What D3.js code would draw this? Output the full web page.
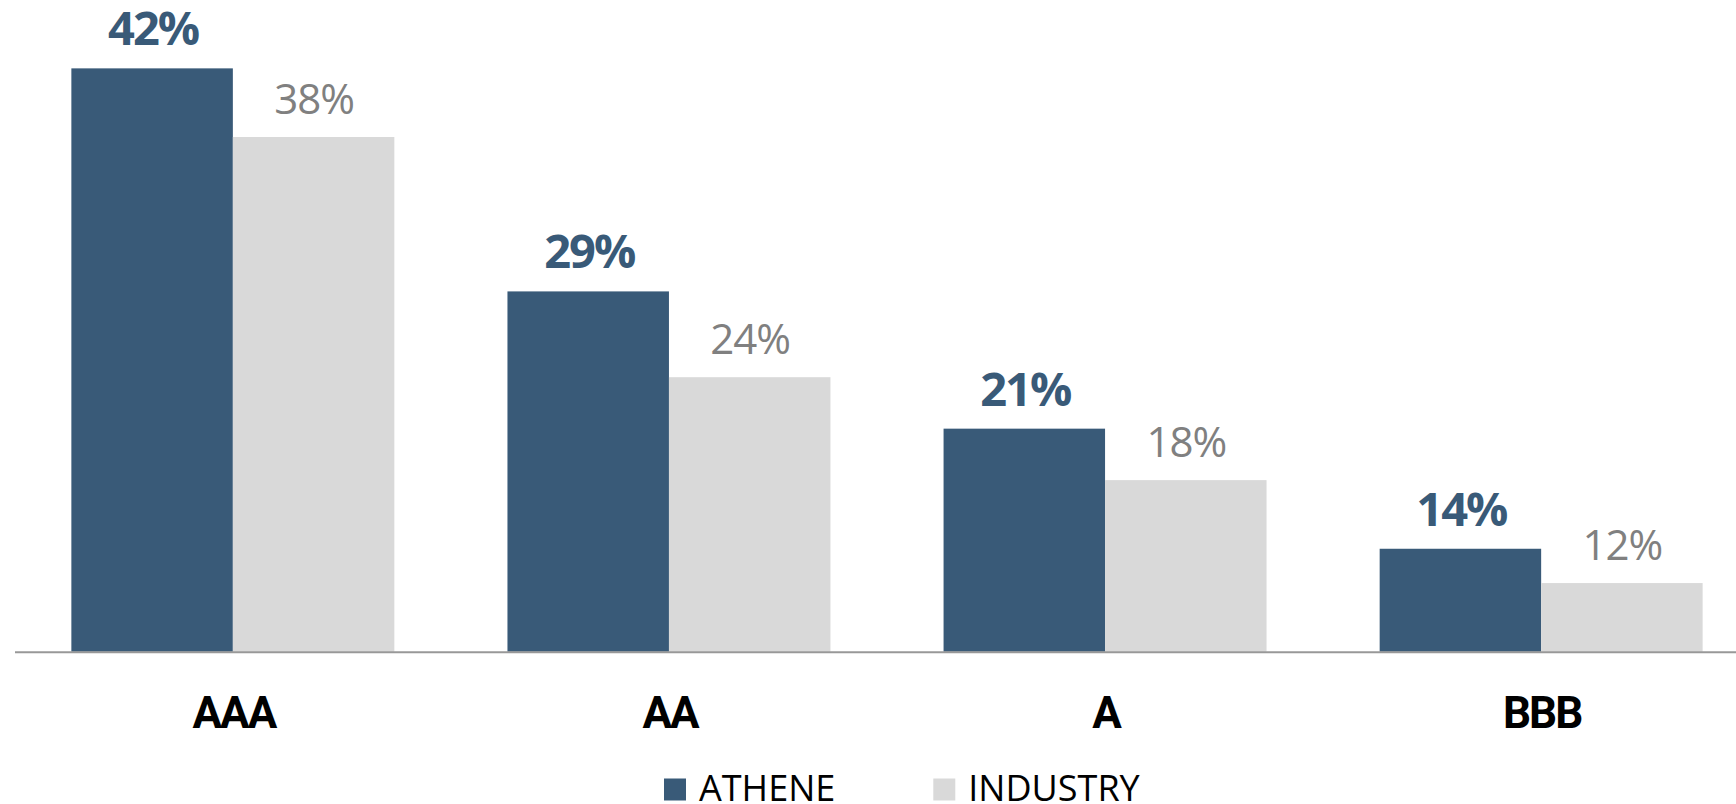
<!DOCTYPE html>
<html><head><meta charset="utf-8">
<script src="https://cdn.jsdelivr.net/npm/d3@7"></script>
<style>html,body{margin:0;padding:0;background:#fff;overflow:hidden}</style>
</head><body>
<svg id="c" width="1736" height="804"></svg>
<script>
const categories = ["AAA", "AA", "A", "BBB"];
const seriesNames = ["ATHENE", "INDUSTRY"];
const athene = [42, 29, 21, 14];
const industry = [38, 24, 18, 12];
const colors = ["#395a78", "#d9d9d9"];
const labelColors = ["#395a78", "#808080"];

const svg = d3.select("#c");
const baseY = 651.7;
const x = d3.scaleBand().domain(categories).range([14.8, 1759.2]).paddingInner(0.2594).paddingOuter(0.1297);
const xs = d3.scaleBand().domain(seriesNames).range([0, x.bandwidth()]);
const y = d3.scaleLinear().domain([8, 45]).range([baseY, baseY - 37 * 17.157]);

const rows = categories.map((c, i) => ({cat: c, vals: [athene[i], industry[i]]}));

const g = svg.selectAll("g.cat").data(rows).join("g").attr("class", "cat")
  .attr("transform", d => `translate(${x(d.cat)},0)`);

g.selectAll("rect").data(d => d.vals.map((v, k) => ({v, k}))).join("rect")
  .attr("x", d => xs(seriesNames[d.k]))
  .attr("width", xs.bandwidth())
  .attr("y", d => y(d.v))
  .attr("height", d => baseY - y(d.v))
  .attr("fill", d => colors[d.k]);

const ls = [-2, -1];
g.selectAll("text.lbl").data(d => d.vals.map((v, k) => ({v, k}))).join("text")
  .attr("class", "lbl")
  .attr("x", d => xs(seriesNames[d.k]) + xs.bandwidth() / 2 - ls[d.k] / 2)
  .attr("y", d => y(d.v) - 23)
  .attr("text-anchor", "middle")
  .attr("font-family", "Open Sans")
  .attr("font-weight", d => d.k === 0 ? 700 : 400)
  .attr("font-size", d => d.k === 0 ? 47 : 42)
  .attr("letter-spacing", d => ls[d.k])
  .attr("fill", d => labelColors[d.k])
  .text(d => d.v + "%");

// axis line
svg.append("line").attr("x1", 15).attr("x2", 1736).attr("y1", baseY + 0.5).attr("y2", baseY + 0.5)
  .attr("stroke", "#989898").attr("stroke-width", 2);

// category labels
const xAxis = d3.axisBottom(x).tickSize(0).tickPadding(0);
const ax = svg.append("g").attr("transform", `translate(0,${baseY})`).call(xAxis);
ax.select(".domain").remove();
ax.selectAll("text")
  .attr("y", 76)
  .attr("dy", 0)
  .attr("x", 1)
  .attr("font-family", "Roboto, Arial, sans-serif")
  .attr("font-weight", 700)
  .attr("font-size", 44)
  .attr("letter-spacing", -2)
  .attr("fill", "#000");

// legend
const legX = [664, 933.3];
const leg = svg.selectAll("g.leg").data(seriesNames).join("g").attr("class", "leg")
  .attr("transform", (d, i) => `translate(${legX[i]},0)`);
leg.append("rect").attr("x", 0).attr("y", 778.5).attr("width", 22).attr("height", 22)
  .attr("fill", (d, i) => colors[i]);
leg.append("text").attr("x", 35).attr("y", 800.7)
  .attr("font-family", "Open Sans").attr("font-size", 36).attr("fill", "#000")
  .text(d => d);
</script>
</body></html>
